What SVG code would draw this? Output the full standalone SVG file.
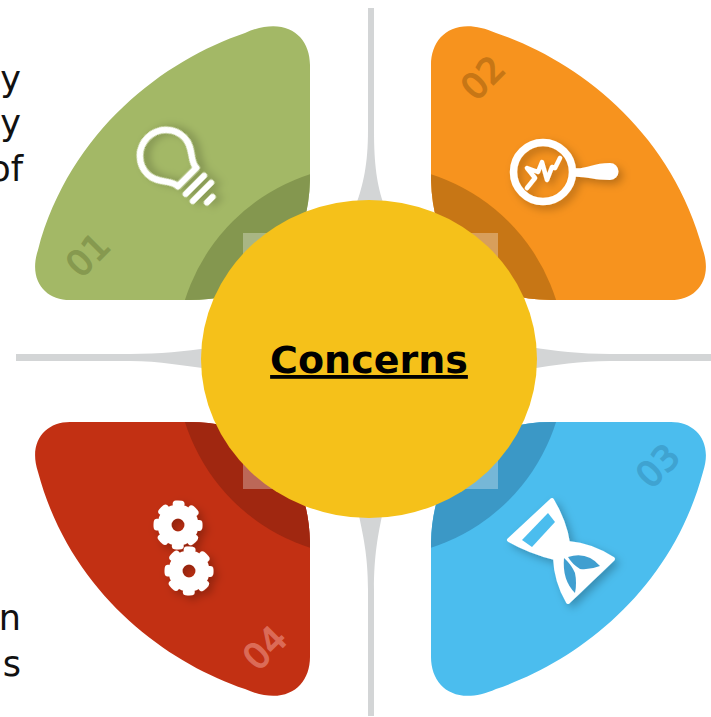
<svg xmlns="http://www.w3.org/2000/svg" width="711" height="717" viewBox="0 0 711 717">
<style>
.frag{font-family:"DejaVu Sans","Liberation Sans",sans-serif;font-size:35px;fill:#111;text-anchor:end}
.num{font-family:"DejaVu Sans","Liberation Sans",sans-serif;font-size:35px;text-anchor:middle;stroke-width:1.400}
.line{fill:none;stroke:#fff;stroke-linecap:round;stroke-linejoin:round}
.light{fill:#fff;opacity:.3}
</style>
<defs>
<path id="petal" d="M245,33C285,15 310,35 310,65L310,180C308,260 260,300 190,300L70,300C45,300 28,280 38,250C70,130 165,60 245,33Z"/>
<clipPath id="petalClip"><use href="#petal"/></clipPath>
<filter id="sh" x="-40%" y="-40%" width="180%" height="180%"><feDropShadow dx="4" dy="4" stdDeviation="4" flood-color="#000" flood-opacity=".25"/></filter>
<g id="gear"><circle r="13.500" fill="none" stroke="#fff" stroke-width="14"/><circle r="21" fill="none" stroke="#fff" stroke-width="7" stroke-dasharray="5 11.490" stroke-dashoffset="2.500" stroke-linecap="round"/></g>
</defs>
<rect width="711" height="717" fill="#fff"/>
<g id="connectors" fill="#d3d5d6">
<path d="M368,8H374V130C374,165 377,185 384,205H356C363,185 368,165 368,130Z"/>
<path d="M368,716H374V590C374,555 378,535 383,511H358C363,535 368,555 368,590Z"/>
<path d="M16,354H130C160,354 185,351 210,348V369C185,366 160,361 130,361H16Z"/>
<path d="M711,354H610C580,354 555,351 530,347V369C555,365 580,361 610,361H711Z"/>
</g>
<g id="text-fragments">
<text class="frag" x="21" y="91">y</text>
<text class="frag" x="21" y="135">y</text>
<text class="frag" x="23" y="181">of</text>
<text class="frag" x="21" y="630">n</text>
<text class="frag" x="21" y="676">s</text>
</g>
<g id="node-01">
<use href="#petal" fill="#a3b866"/>
<circle cx="369" cy="358" r="193" fill="#84974f" clip-path="url(#petalClip)"/>
<rect class="light" x="243" y="233" width="40" height="40"/>
<text class="num" fill="#86994f" stroke="#86994f" transform="translate(88 255) rotate(-45)" y="12">01</text>
<g filter="url(#sh)" transform="translate(168 158) rotate(-45)">
<path class="line" stroke-width="6.500" d="M-13,27C-13,17 -26,11 -26,-3A26,26 0 0 1 26,-3C26,11 13,17 13,27Z"/>
<path class="line" stroke-width="6" d="M-13,38H13M-13,48H13M-4,59H4"/>
</g>
</g>
<g id="node-02">
<g transform="matrix(-1 0 0 1 741 0)">
<use href="#petal" fill="#f7931e"/>
<circle cx="369" cy="358" r="193" fill="#c77615" clip-path="url(#petalClip)"/>
<rect class="light" x="243" y="233" width="40" height="40"/>
</g>
<text class="num" fill="#c77615" stroke="#c77615" transform="translate(483 78) rotate(-45)" y="12">02</text>
<g filter="url(#sh)">
<circle cx="543" cy="172" r="29.500" fill="none" stroke="#fff" stroke-width="7.500"/>
<path fill="#fff" d="M572,168C585,170 592,163 610,163A8.500,8.500 0 0 1 610,180C592,180 585,176 572,177Z"/>
<path class="line" stroke-width="4.500" d="M527,188L535,178L527,168L538,172L542,162L547,180L552,167L555,168L560,158"/>
</g>
</g>
<g id="node-03">
<g transform="matrix(-1 0 0 -1 741 722)">
<use href="#petal" fill="#4bbdee"/>
<circle cx="369" cy="358" r="193" fill="#3b98c6" clip-path="url(#petalClip)"/>
<rect class="light" x="243" y="233" width="40" height="40"/>
</g>
<text class="num" fill="#3fa3d1" stroke="#3fa3d1" transform="translate(658 466) rotate(-45)" y="12">03</text>
<g filter="url(#sh)">
<path fill="#fff" stroke="#fff" stroke-width="4" stroke-linejoin="round" d="M552,500L509,540Q530,552 555,558Q556,582 568,602L613,559Q592,545 568,543Q565,522 552,500Z"/>
<path fill="#4bbdee" d="M522,540L548,513L555,522L532,547Z"/>
<path fill="#3f9fd0" d="M568,557Q587,551 600,566Q590,570 580,569Q572,564 568,557Z"/>
<path fill="#3f9fd0" d="M564,558Q571,564 575,573Q577,583 575,593Q562,580 564,558Z"/>
</g>
</g>
<g id="node-04">
<g transform="matrix(1 0 0 -1 0 722)">
<use href="#petal" fill="#c23013"/>
<circle cx="369" cy="358" r="193" fill="#a02710" clip-path="url(#petalClip)"/>
<rect class="light" x="243" y="233" width="40" height="40"/>
</g>
<text class="num" fill="#db6b57" stroke="#db6b57" transform="translate(265 648) rotate(-45)" y="12">04</text>
<g filter="url(#sh)">
<use href="#gear" x="178" y="525"/>
<use href="#gear" x="189" y="571"/>
</g>
</g>
<g id="node-center">
<ellipse cx="369" cy="359" rx="168" ry="159" fill="#f5c11a"/>
<text x="369" y="373" font-family="'DejaVu Sans','Liberation Sans',sans-serif" font-weight="700" font-size="38" text-anchor="middle" text-decoration="underline" fill="#000">Concerns</text>
</g>
</svg>
